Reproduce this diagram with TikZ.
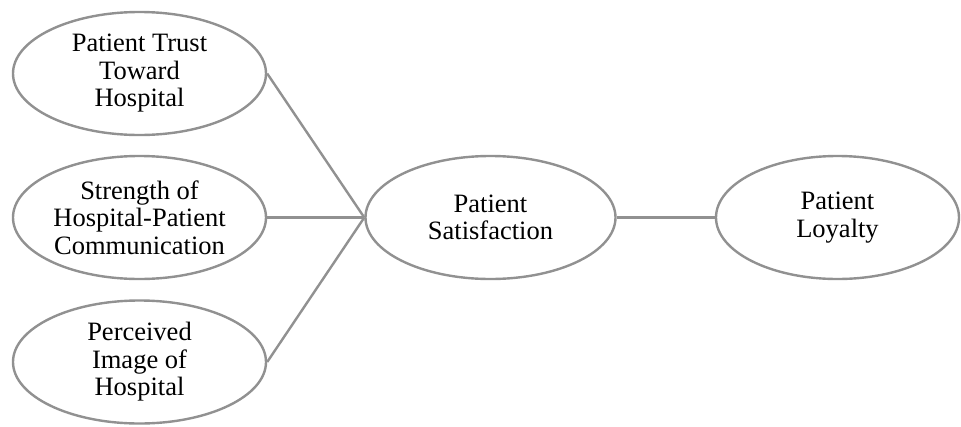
\documentclass[tikz,border=0pt]{standalone}
\usepackage{fontspec}
\setmainfont{Liberation Serif}
\usetikzlibrary{shapes.geometric}
\definecolor{lineg}{RGB}{145,145,145}
\begin{document}
\begin{tikzpicture}[x=1pt,y=-1pt,
  oval/.style={ellipse, draw=lineg, line width=2.4pt, inner sep=0pt,
    minimum height=123pt, align=center, text=black,
    font=\fontsize{26.5}{27.5}\selectfont},
  link/.style={draw=lineg, line width=2.4pt}]
\useasboundingbox (0,0) rectangle (961,426);
\node[oval, minimum width=253pt] (trust) at (139.5,73.5) {Patient Trust\\Toward\\Hospital};
\node[oval, minimum width=253pt] (comm) at (139.5,217.5) {Strength of\\Hospital-Patient\\Communication};
\node[oval, minimum width=253pt] (image) at (139.5,362) {Perceived\\Image of\\Hospital};
\node[oval, minimum width=250pt] (sat) at (490.5,217.5) {Patient\\Satisfaction};
\node[oval, minimum width=243pt] (loy) at (837.5,217.5) {Patient\\Loyalty};
\draw[link] (trust.east) -- (sat.west);
\draw[link] (comm.east) -- (sat.west);
\draw[link] (image.east) -- (sat.west);
\draw[link] (sat.east) -- (loy.west);
\end{tikzpicture}
\end{document}
